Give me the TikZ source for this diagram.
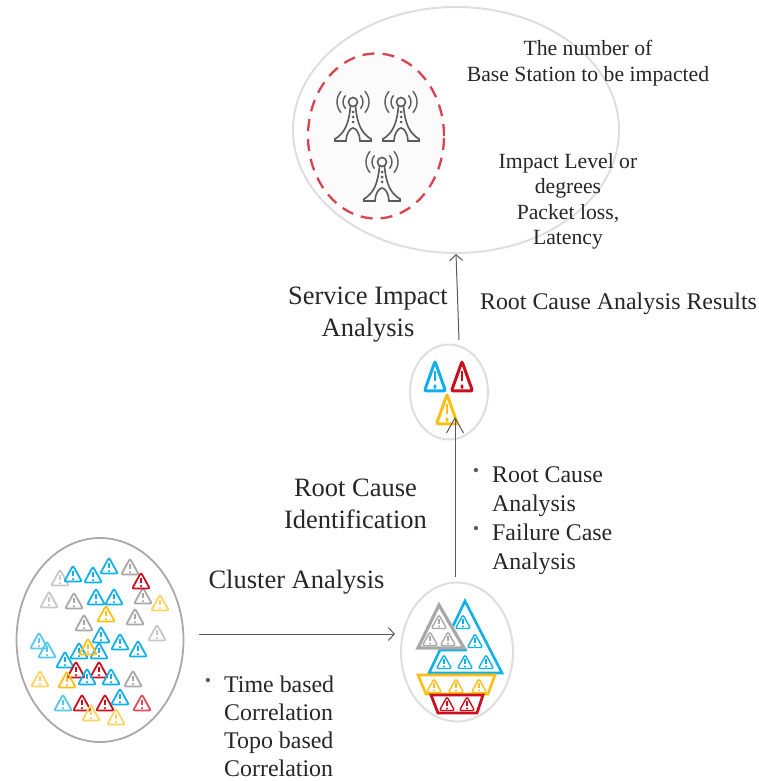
\documentclass[tikz,border=0pt]{standalone}
\usepackage{fontspec}
\setmainfont{Liberation Serif}
\usepackage{tikz}
\usetikzlibrary{shapes.geometric,arrows.meta}
\definecolor{TextGray}{HTML}{262626}
\definecolor{ConnGray}{HTML}{5A5A5A}
\definecolor{AlertBlue}{HTML}{10B0EA}
\definecolor{AlertRed}{HTML}{C8101E}
\definecolor{AlertYellow}{HTML}{FFBE14}
\definecolor{AlertGray}{HTML}{A8A8A8}
\definecolor{PaleBlue}{HTML}{55C8F0}
\definecolor{PaleRed}{HTML}{D9505C}
\definecolor{PaleYellow}{HTML}{FFD264}
\definecolor{PaleGray}{HTML}{C8C8C8}
\definecolor{ZoneGray}{HTML}{DEDEDE}
\definecolor{DashRed}{HTML}{D9434E}
\definecolor{ZoneFill}{HTML}{FBFBFB}
\tikzset{
	zone/.style={draw=ZoneGray,line width=2pt,ellipse,inner sep=0pt},
	conn/.style={draw=ConnGray,line width=1pt,-{Straight Barb[length=6pt,width=13pt]}},
	wideconn/.style={draw=ConnGray,line width=1pt,-{Straight Barb[length=15pt,width=17pt]}},
	bigtext/.style={text=TextGray,inner sep=0pt,align=center,font=\fontsize{26.5}{31.5}\selectfont},
	midtext/.style={text=TextGray,inner sep=0pt,align=left,font=\fontsize{23.9}{28.8}\selectfont},
	lowtext/.style={text=TextGray,inner sep=0pt,align=left,font=\fontsize{23.9}{28}\selectfont},
	toptext/.style={text=TextGray,inner sep=0pt,align=center,font=\fontsize{21.7}{25.5}\selectfont},
	dotmark/.style={text=ConnGray,inner sep=0pt,font=\fontsize{18}{18}\selectfont},
	pics/alert/.style={code={
		\draw[#1,rounded corners=2pt] (0,-10)--(10.5,9)--(-10.5,9)--cycle;
		\draw[#1,line width=2pt] (0,-4)--(0,2.5);
		\fill[#1] (0,6.2) circle (1.5);
	}},
	pics/tower/.style={code={
		\draw[ConnGray,line width=1.6pt] (0,-39) circle (4.5);
		\draw[ConnGray,line width=1.6pt] (-2.5,-35) .. controls (-4,-18) and (-8,-8) .. (-18,-2)--(-18,0)--(-7,0)
			.. controls (-7,-7) and (-3,-13) .. (0,-13) .. controls (3,-13) and (7,-7) .. (7,0)
			--(18,0)--(18,-2) .. controls (8,-8) and (4,-18) .. (2.5,-35);
		\foreach \dy in {-29,-24,-19} \fill[ConnGray] (0,\dy) circle (1.5);
		\foreach \rr in {10,16} {
			\draw[ConnGray,line width=1.4pt] (-42:\rr) ++(0,-39) arc (-42:42:\rr);
			\draw[ConnGray,line width=1.4pt] (138:\rr) ++(0,-39) arc (138:222:\rr);
		}
	}}
}
\begin{document}
\begin{tikzpicture}[x=1pt,y=-1pt]
	\useasboundingbox (0,0) rectangle (759,781);
	% ellipses
	\node[zone,minimum width=326pt,minimum height=246pt] (impactzone) at (456,130) {};
	\node[draw=DashRed,fill=ZoneFill,line width=2.3pt,dash pattern=on 12pt off 8pt,ellipse,inner sep=0pt,minimum width=136pt,minimum height=165pt] (towerzone) at (376,136) {};
	\node[zone,minimum width=78pt,minimum height=95pt] (rootalarm) at (449,392) {};
	\node[zone,minimum width=112pt,minimum height=139pt] (rootset) at (457,652) {};
	\node[draw=AlertGray,line width=1.8pt,ellipse,inner sep=0pt,minimum width=167pt,minimum height=204pt] (allalarms) at (100,640) {};
	% towers
	\foreach \tx/\ty in {353/141,401/141,382/201}
		\pic at (\tx,\ty) {tower};
	% alarms in the left ellipse
	\foreach \ax/\ay/\ac in {60/578/PaleGray,73/574/AlertBlue,93/575/AlertBlue,109/566/AlertBlue,130/567/AlertGray,143/596/AlertGray,141/581/AlertRed,
		49/600/PaleGray,74/601/AlertGray,96/597/AlertBlue,114/597/AlertBlue,160/603/PaleYellow,84/623/AlertGray,135/617/AlertGray,106/614/AlertYellow,
		157/633/PaleGray,101/635/AlertBlue,39/641/PaleBlue,47/650/PaleBlue,79/651/AlertBlue,99/651/AlertBlue,88/647/AlertYellow,120/642/AlertBlue,138/649/AlertBlue,
		65/660/AlertBlue,76/670/AlertRed,99/670/AlertRed,87/677/AlertBlue,111/677/AlertBlue,133/679/AlertGray,40/679/PaleYellow,67/680/AlertYellow,
		63/703/PaleBlue,82/703/AlertRed,105/703/AlertRed,120/697/AlertBlue,142/703/PaleRed,91/713/PaleYellow,116/717/PaleYellow}
		\pic[scale=.84,line width=1.8pt] at (\ax,\ay) {alert=\ac};
	% pyramid
	\draw[AlertBlue,line width=2.6pt,line join=miter] (453,626)--(465,601)--(502,673)--(429,673)--(440,650)--(467,650);
	\draw[AlertGray,line width=3.2pt] (439,605)--(464,648)--(418,648)--cycle;
	\draw[AlertYellow,line width=2.6pt] (418,675)--(495,675)--(488,694)--(426,694)--cycle;
	\draw[AlertRed,line width=2.8pt] (431,695)--(483,695)--(477,713)--(438,713)--cycle;
	\foreach \ax/\ay/\ac in {439/622/AlertGray,430/639/AlertGray,448/639/AlertGray,463/622/AlertBlue,475/641/AlertBlue,444/662/AlertBlue,465/662/AlertBlue,486/662/AlertBlue,
		434/686/AlertYellow,456/686/AlertYellow,479/686/AlertYellow,447/704/AlertRed,467/704/AlertRed}
		\pic[scale=.72,line width=1.4pt] at (\ax,\ay) {alert=\ac};
	% root alarms
	\foreach \ax/\ay/\ac in {435/377/AlertBlue,462/377/AlertRed,447/410/AlertYellow}
		\pic[xscale=1,yscale=1.55,line width=3pt] at (\ax,\ay) {alert=\ac};
	% connectors
	\coordinate (ClusterOut) at (199,634);
	\coordinate (ClusterIn) at (395,634);
	\coordinate (RootIn) at (455,417);
	\coordinate (ImpactOut) at (459,340);
	\draw[conn] (ClusterOut)--(ClusterIn);
	\draw[wideconn] (rootset.north -| RootIn)+(0,-5)--(RootIn);
	\draw[conn] (ImpactOut)--(impactzone.south);
	% labels
	\node[toptext] (numtext) at (588,63) {The number of\\Base Station to be impacted};
	\node[toptext] (leveltext) at (568,201.5) {Impact Level or\\degrees\\Packet loss,\\Latency};
	\node[bigtext] (servicetext) at (368,314.5) {Service Impact\\Analysis};
	\node[midtext] (resulttext) at (618.5,304) {Root Cause Analysis Results};
	\node[bigtext] (idtext) at (355.5,504) {Root Cause\\Identification};
	\node[bigtext] (clustertext) at (296.5,582) {Cluster Analysis};
	\node[midtext,anchor=west] (casetext) at (492,520.5) {Root Cause\\Analysis\\Failure Case\\Analysis};
	\node[lowtext,anchor=west] (corrtext) at (224,726.2) {Time based\\Correlation\\Topo based\\Correlation};
	\node[dotmark] (casedota) at (476,472) {•};
	\node[dotmark] (casedotb) at (476,530) {•};
	\node[dotmark] (corrdot) at (208,682) {•};
\end{tikzpicture}
\end{document}
